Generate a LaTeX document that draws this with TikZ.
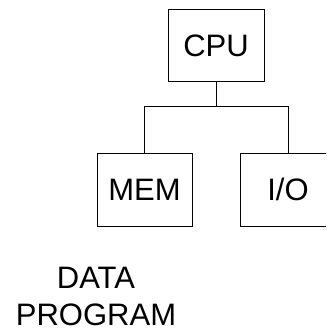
\documentclass[tikz,border=0pt]{standalone}
\usepackage{fontspec}
\setmainfont{Liberation Sans}
\begin{document}
\begin{tikzpicture}[x=1pt,y=1pt,
  unit/.style={draw=black, line width=0.8pt, inner sep=0pt, font=\fontsize{31}{37}\selectfont, text height=22pt, text depth=0pt},
  wire/.style={draw=black, line width=0.8pt}]
\clip (0,0) rectangle (326,-331);
\useasboundingbox (0,0) rectangle (326,-331);
\node[unit, minimum width=96pt, minimum height=71.5pt] (cpu) at (216,-45.2) {CPU};
\node[unit, minimum width=95pt, minimum height=73pt] (mem) at (144.5,-189.6) {MEM};
\node[unit, minimum width=95pt, minimum height=73pt] (io) at (288,-189.6) {I/O};
\coordinate (bus) at (216,-106);
\draw[wire] (cpu.south) -- (bus);
\draw[wire] (mem.north) -- (mem.north |- bus) -- (io.north |- bus) -- (io.north);
\node[font=\fontsize{31}{37}\selectfont, align=center, inner sep=0pt] (txt) at (96,-296.5) {DATA\\PROGRAM};
\end{tikzpicture}
\end{document}
